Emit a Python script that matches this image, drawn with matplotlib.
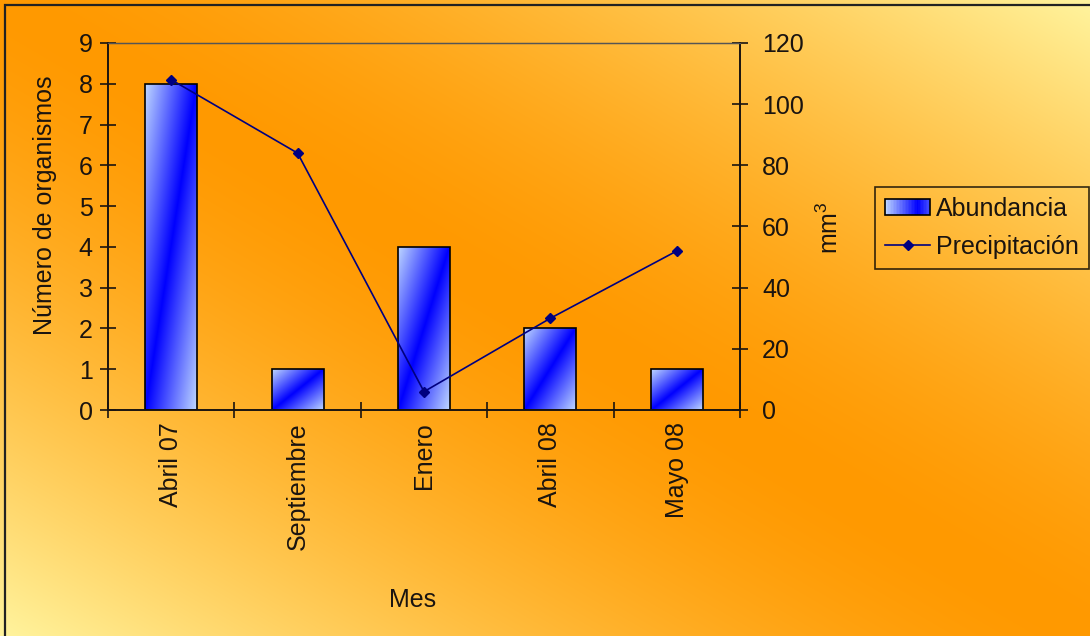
import matplotlib
matplotlib.use("Agg")
import matplotlib.pyplot as plt
import numpy as np
from matplotlib.patches import Rectangle
from matplotlib.lines import Line2D
from matplotlib.legend_handler import HandlerBase

plt.rcParams["font.family"] = ["Liberation Sans", "DejaVu Sans"]
plt.rcParams["mathtext.fontset"] = "custom"
plt.rcParams["mathtext.rm"] = "Liberation Sans"
plt.rcParams["mathtext.it"] = "Liberation Sans"

meses = ["Abril 07", "Septiembre", "Enero", "Abril 08", "Mayo 08"]
abundancia = [8, 1, 4, 2, 1]
precipitacion = [108, 84, 6, 30, 52]

W, H = 1090, 636
DARK = "#1a1410"
ORANGE = np.array([255, 153, 0]) / 255
YELLOW = np.array([255, 244, 158]) / 255
BLUE = np.array([0, 0, 255]) / 255
LIGHT = np.array([190, 215, 255]) / 255
FS = 18


def px(x, y):
    # pixel position (top-left origin) -> figure fraction
    return x / W, 1 - y / H


def blue_grad(t):
    t = np.clip(t, 0, 1)[..., None]
    return BLUE * (1 - t) + LIGHT * t


class GradientPatchHandler(HandlerBase):
    def create_artists(self, legend, orig_handle, xdescent, ydescent,
                       width, height, fontsize, trans):
        n = 30
        arts = []
        for i in range(n):
            u = (i + 0.5) / n
            c = blue_grad(np.array(abs(u - 0.72) / 0.72))
            arts.append(Rectangle((-xdescent + i * width / n, -ydescent), width / n, height,
                                  facecolor=c, edgecolor="none", transform=trans))
        arts.append(Rectangle((-xdescent, -ydescent), width, height, fill=False,
                              edgecolor="black", lw=1.2, transform=trans))
        return arts


fig = plt.figure(figsize=(W / 100, H / 100), dpi=100)

# diagonal background wash: orange along the main diagonal, yellow toward the corners
bg = fig.add_axes([0, 0, 1, 1], zorder=-10)
u = np.linspace(0, 1, W)[None, :]
v = np.linspace(0, 1, H)[:, None]
t = (np.clip(np.abs(u - v), 0, 1) ** 1.5)[..., None]
bg.imshow(ORANGE * (1 - t) + YELLOW * t, aspect="auto", extent=[0, 1, 0, 1], origin="upper")
bg.set_axis_off()
bg.add_patch(Rectangle((5 / W, -0.1), 1.2, 1 - 5 / H + 0.1, fill=False,
                       edgecolor="#222222", lw=1.6, transform=bg.transAxes))

x0, x1 = 108 / W, 740 / W
y_bot, y_top = 1 - 410 / H, 1 - 43 / H
ax = fig.add_axes([x0, y_bot, x1 - x0, y_top - y_bot])
ax.set_facecolor("none")
ax2 = ax.twinx()

x = np.arange(len(meses))
bars = ax.bar(x, abundancia, width=0.41, facecolor="none", edgecolor="black", lw=1.2, zorder=3)
gu = np.linspace(0, 1, 60)[None, :]
gv = np.linspace(0, 1, 200)[:, None]
grad = blue_grad(np.abs(gu - gv))
for b in bars:
    im = ax.imshow(grad, extent=[b.get_x(), b.get_x() + b.get_width(), 0, b.get_height()],
                   origin="lower", aspect="auto", zorder=2)
    im.set_clip_path(b)

ax.set_xlim(-0.5, len(meses) - 0.5)
ax.set_ylim(0, 9)
ax.set_yticks(range(0, 10))
ax.set_xticks(x)
ax.set_xticklabels(meses, rotation=90, fontsize=FS, color=DARK)
ax.set_xticks(np.arange(-0.5, len(meses), 1), minor=True)
ax.tick_params(axis="x", which="major", length=0, pad=9)
ax.tick_params(axis="x", which="minor", direction="inout", length=12, width=1.2, color=DARK)
ax.tick_params(axis="y", direction="inout", length=12, width=1.2, color=DARK,
               labelsize=FS, labelcolor=DARK, pad=5)

ax2.plot(x, precipitacion, color="#000080", lw=1.2, marker="D", markersize=5, zorder=4)
ax2.set_ylim(0, 120)
ax2.set_yticks(range(0, 121, 20))
ax2.tick_params(axis="y", direction="inout", length=12, width=1.2, color=DARK,
                labelsize=FS, labelcolor=DARK, pad=10)

for a in (ax, ax2):
    for side in ("left", "right", "bottom"):
        a.spines[side].set_color(DARK)
        a.spines[side].set_linewidth(1.2)
    a.spines["top"].set_color("#555555")
    a.spines["top"].set_linewidth(0.9)

fig.text(*px(45, 205), "Número de organismos", rotation=90, ha="center", va="center",
         fontsize=FS, color=DARK)
fig.text(*px(830, 228), "mm$^3$", rotation=90, ha="center", va="center",
         fontsize=FS, color=DARK)
fig.text(*px(413, 600), "Mes", ha="center", va="center", fontsize=FS, color=DARK)

handles = [Rectangle((0, 0), 1, 1),
           Line2D([], [], color="#000080", lw=1.2, marker="D", markersize=5)]
leg = fig.legend(handles, ["Abundancia", "Precipitación"], loc="upper left",
                 bbox_to_anchor=px(875, 187), fontsize=FS, frameon=True, fancybox=False,
                 handlelength=1.8, handleheight=0.6, handletextpad=0.25, borderpad=0.4,
                 labelspacing=0.55, borderaxespad=0,
                 handler_map={Rectangle: GradientPatchHandler()})
leg.get_frame().set_facecolor("none")
leg.get_frame().set_edgecolor("black")
leg.get_frame().set_linewidth(1.2)
for txt in leg.get_texts():
    txt.set_color(DARK)

fig.savefig("out.png", dpi=100)
